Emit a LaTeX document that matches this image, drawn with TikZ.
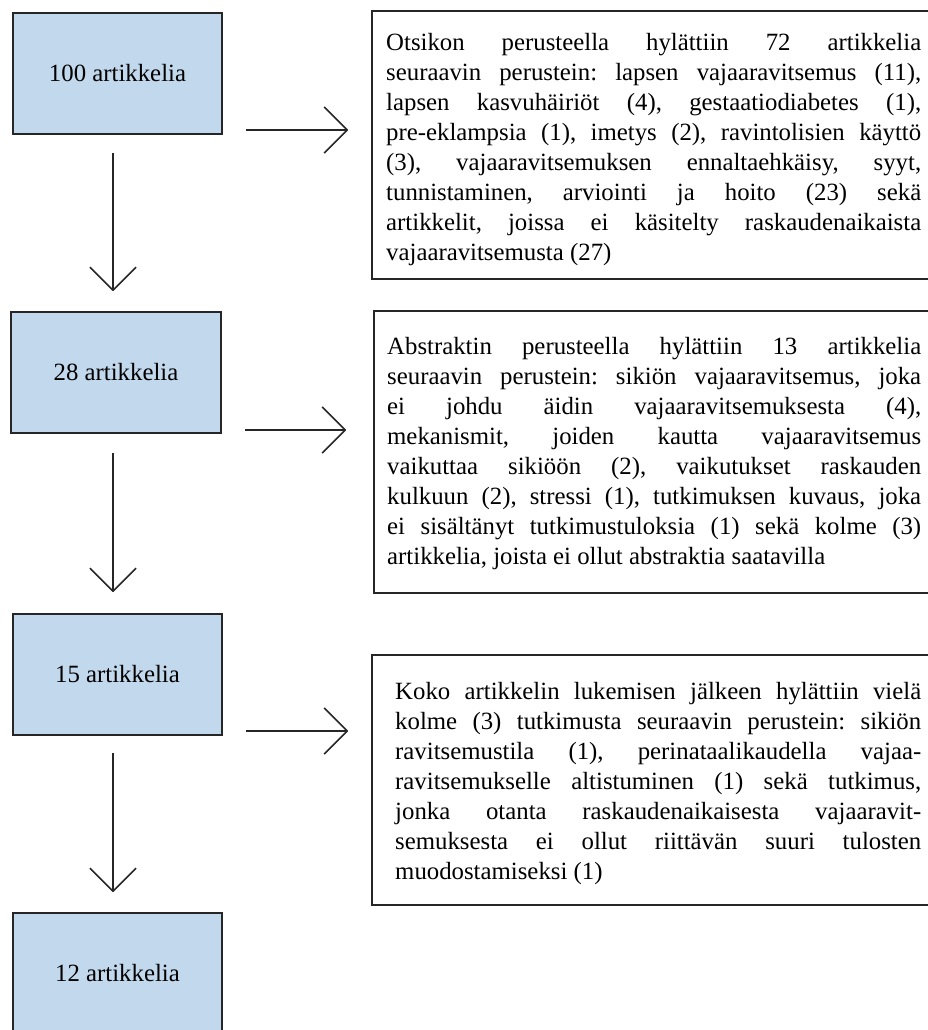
\documentclass[tikz,border=0pt]{standalone}
\usepackage{fontspec}
\setmainfont{Liberation Serif}
\usetikzlibrary{arrows.meta}
\definecolor{boxfill}{RGB}{194,216,237}
\definecolor{ink}{RGB}{38,38,38}
\frenchspacing
% one fully justified line of a reason text, of width \rlw
\newlength{\rlw}
\newcommand{\fl}[1]{\hbox to \rlw{\spaceskip=0.25em plus 1fil\relax #1}}
\tikzset{
  txt/.style={font=\fontsize{24.8}{30}\selectfont\frenchspacing},
  stage/.style={txt, draw=ink, line width=2pt, fill=boxfill, inner sep=0pt,
    minimum width=209pt, minimum height=121pt},
  reject/.style={draw=ink, line width=2pt, inner sep=0pt, anchor=north west},
  reason/.style={txt, anchor=north west, inner sep=0pt, align=left}
}
\tikzset{
  flow/.style={draw=ink, line width=1.6pt, line join=round,
    -{Straight Barb[length=23pt, width=46pt, line join=round]}}
}
\begin{document}
\begin{tikzpicture}[x=1pt, y=-1pt]
\useasboundingbox (0,0) rectangle (928,1030);
\clip (0,0) rectangle (928,1030);

% stages of the screening
\node[stage] (b1) at (117.5,73.5) {100 artikkelia};
\node[stage, minimum width=210pt] (b2) at (116,372.5) {28 artikkelia};
\node[stage] (b3) at (117.5,674.5) {15 artikkelia};
\node[stage] (b4) at (117.5,973.5) {12 artikkelia};

% boxes with the reasons for exclusion
\node[reject, minimum width=570pt, minimum height=268pt] (r1) at (371,10) {};
\node[reject, minimum width=570pt, minimum height=282pt] (r2) at (373,310) {};
\node[reject, minimum width=570pt, minimum height=250pt] (r3) at (371,654) {};

\setlength{\rlw}{535pt}
\node[reason] (t1) at (386,30) {%
\fl{\rule{0pt}{20pt}Otsikon perusteella hylättiin 72 artikkelia}\\
\fl{seuraavin perustein: lapsen vajaaravitsemus (11),}\\
\fl{lapsen kasvuhäiriöt (4), gestaatiodiabetes (1),}\\
\fl{pre-eklampsia (1), imetys (2), ravintolisien käyttö}\\
\fl{(3), vajaaravitsemuksen ennaltaehkäisy, syyt,}\\
\fl{tunnistaminen, arviointi ja hoito (23) sekä}\\
\fl{artikkelit, joissa ei käsitelty raskaudenaikaista}\\
vajaaravitsemusta (27)};

\setlength{\rlw}{534pt}
\node[reason] (t2) at (387,334) {%
\fl{\rule{0pt}{20pt}Abstraktin perusteella hylättiin 13 artikkelia}\\
\fl{seuraavin perustein: sikiön vajaaravitsemus, joka}\\
\fl{ei johdu äidin vajaaravitsemuksesta (4),}\\
\fl{mekanismit, joiden kautta vajaaravitsemus}\\
\fl{vaikuttaa sikiöön (2), vaikutukset raskauden}\\
\fl{kulkuun (2), stressi (1), tutkimuksen kuvaus, joka}\\
\fl{ei sisältänyt tutkimustuloksia (1) sekä kolme (3)}\\
artikkelia, joista ei ollut abstraktia saatavilla};

\setlength{\rlw}{526pt}
\node[reason] (t3) at (395,679) {%
\fl{\rule{0pt}{20pt}Koko artikkelin lukemisen jälkeen hylättiin vielä}\\
\fl{kolme (3) tutkimusta seuraavin perustein: sikiön}\\
\fl{ravitsemustila (1), perinataalikaudella vajaa-}\\
\fl{ravitsemukselle altistuminen (1) sekä tutkimus,}\\
\fl{jonka otanta raskaudenaikaisesta vajaaravit-}\\
\fl{semuksesta ei ollut riittävän suuri tulosten}\\
muodostamiseksi (1)};

% arrow end points
\coordinate (d1s) at (113,153); \coordinate (d1e) at (113,291);
\coordinate (d2s) at (113,453); \coordinate (d2e) at (113,592);
\coordinate (d3s) at (113,753); \coordinate (d3e) at (113,892);
\coordinate (h1s) at (246,130); \coordinate (h1e) at (348,130);
\coordinate (h2s) at (245,430); \coordinate (h2e) at (346,430);
\coordinate (h3s) at (246,731); \coordinate (h3e) at (348,731);

\draw[flow] (d1s) -- (d1e);
\draw[flow] (d2s) -- (d2e);
\draw[flow] (d3s) -- (d3e);
\draw[flow] (h1s) -- (h1e);
\draw[flow] (h2s) -- (h2e);
\draw[flow] (h3s) -- (h3e);
\end{tikzpicture}
\end{document}
